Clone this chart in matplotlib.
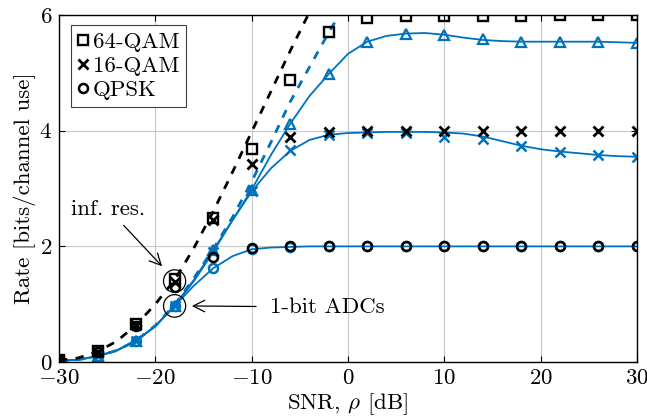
import matplotlib
matplotlib.use('Agg')
import matplotlib.pyplot as plt
from matplotlib.lines import Line2D
from matplotlib.patches import Ellipse

plt.rcParams['font.family'] = 'cmr10'
plt.rcParams['mathtext.fontset'] = 'cm'
plt.rcParams['axes.formatter.use_mathtext'] = True
plt.rcParams['font.size'] = 16.5

# SNR grids
snr_line = list(range(-30, 31, 2))
snr_mark = list(range(-30, 31, 4))

# capacity curves (dashed)
snr_inf_dash = list(range(-30, -3, 2))
inf_dash = [0.03, 0.07, 0.18, 0.36, 0.64, 1.0, 1.42, 1.97, 2.6, 3.28, 3.98, 4.68, 5.38, 6.05]
snr_1bit_dash = list(range(-30, 1, 2))
onebit_dash = [0.02, 0.04, 0.1, 0.2, 0.37, 0.63, 0.99, 1.45, 1.95, 2.5, 3.12, 3.8, 4.5, 5.1, 5.7, 6.25]

# infinite-resolution simulation points (black markers)
inf_64qam = [0.03, 0.19, 0.65, 1.44, 2.49, 3.68, 4.87, 5.71, 5.95, 5.98, 5.99, 5.99, 5.99, 6.0, 6.0, 6.0]
inf_16qam = [0.03, 0.18, 0.64, 1.38, 2.46, 3.43, 3.89, 3.98, 4.0, 4.0, 4.0, 4.0, 4.0, 4.0, 4.0, 4.0]
inf_qpsk = [0.03, 0.18, 0.63, 1.3, 1.81, 1.98, 2.0, 2.0, 2.0, 2.0, 2.0, 2.0, 2.0, 2.0, 2.0, 2.0]

# 1-bit ADC curves (blue solid) and simulation points (blue markers)
bit_64qam_line = [0.02, 0.04, 0.1, 0.2, 0.37, 0.62, 0.97, 1.42, 1.93, 2.45, 2.98, 3.58, 4.12, 4.6,
                  4.98, 5.33, 5.54, 5.64, 5.68, 5.69, 5.66, 5.61, 5.57, 5.55, 5.54, 5.54, 5.54,
                  5.54, 5.54, 5.53, 5.52]
bit_64qam_mark = [0.02, 0.1, 0.37, 0.97, 1.93, 2.98, 4.12, 4.98, 5.54, 5.67, 5.66, 5.58, 5.54,
                  5.54, 5.54, 5.51]
bit_16qam_line = [0.02, 0.04, 0.1, 0.2, 0.37, 0.62, 0.97, 1.4, 1.9, 2.45, 2.95, 3.35, 3.65, 3.84,
                  3.93, 3.96, 3.97, 3.98, 3.98, 3.98, 3.97, 3.95, 3.9, 3.82, 3.74, 3.68, 3.64,
                  3.61, 3.58, 3.56, 3.55]
bit_16qam_mark = [0.02, 0.1, 0.37, 0.97, 1.9, 2.95, 3.67, 3.93, 3.96, 3.96, 3.9, 3.85, 3.74,
                  3.63, 3.58, 3.55]
bit_qpsk_line = [0.02, 0.04, 0.1, 0.2, 0.37, 0.62, 0.97, 1.32, 1.62, 1.83, 1.95, 1.98, 1.99, 2.0,
                 2.0, 2.0, 2.0, 2.0, 2.0, 2.0, 2.0, 2.0, 2.0, 2.0, 2.0, 2.0, 2.0, 2.0, 2.0, 2.0, 2.0]
bit_qpsk_mark = [0.02, 0.1, 0.37, 0.97, 1.62, 1.95, 1.99, 2.0, 2.0, 2.0, 2.0, 2.0, 2.0, 2.0, 2.0, 2.0]

blue = '#0072BD'

fig = plt.figure(figsize=(6.47, 4.19), dpi=100)
ax = fig.add_axes([0.0912, 0.136, 0.8933, 0.828])

# blue solid lines + markers
ax.plot(snr_line, bit_64qam_line, color=blue, lw=1.3)
ax.plot(snr_line, bit_16qam_line, color=blue, lw=1.3)
ax.plot(snr_line, bit_qpsk_line, color=blue, lw=1.3)
ax.plot(snr_mark, bit_64qam_mark, ls='none', marker='^', ms=7, mfc='none', mec=blue, mew=1.6)
ax.plot(snr_mark, bit_16qam_mark, ls='none', marker='x', ms=7, mec=blue, mew=1.8)
ax.plot(snr_mark, bit_qpsk_mark, ls='none', marker='o', ms=6.5, mfc='none', mec=blue, mew=1.8)

# dashed capacity curves
ax.plot(snr_1bit_dash, onebit_dash, color=blue, lw=2, ls=(0, (3, 3)))
ax.plot(snr_inf_dash, inf_dash, color='black', lw=2, ls=(0, (3, 3)))

# black markers
ax.plot(snr_mark, inf_64qam, ls='none', marker='s', ms=7, mfc='none', mec='black', mew=1.7)
ax.plot(snr_mark, inf_16qam, ls='none', marker='x', ms=6.5, mec='black', mew=2)
ax.plot(snr_mark, inf_qpsk, ls='none', marker='o', ms=6.5, mfc='none', mec='black', mew=1.8)

ax.set_xlim(-30, 30)
ax.set_ylim(0, 6)
ax.set_xticks([-30, -20, -10, 0, 10, 20, 30])
ax.set_yticks([0, 2, 4, 6])
ax.grid(True, color='#c8c8c8', lw=0.8)
ax.set_axisbelow(True)
ax.tick_params(direction='in', top=True, right=True, length=4, colors='black', pad=5)
for s in ax.spines.values():
    s.set_linewidth(1.0)
ax.set_xlabel(r'SNR, $\rho$ [dB]', labelpad=2)
ax.set_ylabel('Rate [bits/channel use]', labelpad=2)

# annotation circles and arrows
ax.add_patch(Ellipse((-18, 1.4), 2.3, 0.39, fill=False, color='black', lw=0.9, zorder=5))
ax.add_patch(Ellipse((-18, 0.97), 2.3, 0.39, fill=False, color='black', lw=0.9, zorder=5))
arrow = dict(arrowstyle='->,head_length=0.5,head_width=0.25', color='black', lw=0.9)
ax.annotate('inf. res.', xy=(-19.1, 1.62), xytext=(-24.9, 2.65), ha='center', va='center',
            arrowprops=dict(arrow, shrinkA=4))
ax.annotate('1-bit ADCs', xy=(-16.5, 0.97), xytext=(-8.1, 0.95), ha='left', va='center',
            arrowprops=dict(arrow, shrinkA=8))

handles = [Line2D([], [], ls='none', marker='s', ms=7, mfc='none', mec='black', mew=1.7),
           Line2D([], [], ls='none', marker='x', ms=6.5, mec='black', mew=2),
           Line2D([], [], ls='none', marker='o', ms=6.5, mfc='none', mec='black', mew=1.8)]
leg = ax.legend(handles, ['64-QAM', '16-QAM', 'QPSK'], loc='upper left',
                bbox_to_anchor=(0.021, 0.971), fancybox=False, framealpha=1,
                edgecolor='#404040', handlelength=0.4, handletextpad=0.25,
                labelspacing=0.17, borderpad=0.3, borderaxespad=0)
leg.get_frame().set_linewidth(0.8)

fig.savefig('out.png', dpi=100)
